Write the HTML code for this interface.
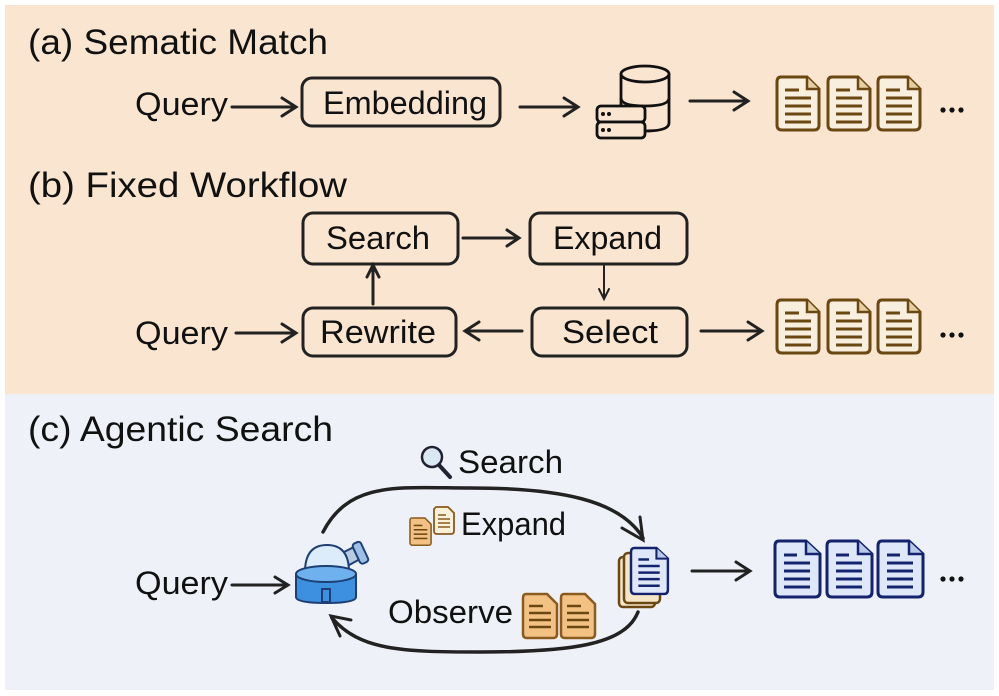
<!DOCTYPE html>
<html><head><meta charset="utf-8"><style>
html,body{margin:0;padding:0;background:#fff}
svg{display:block}
text{font-family:"Liberation Sans",sans-serif;fill:#111}
</style></head><body>
<svg width="999" height="696" viewBox="0 0 999 696" xmlns="http://www.w3.org/2000/svg">
<defs>
<g id="docB">
 <path d="M4 0 H30 L42 12 V48 Q42 53 37 53 H5 Q0 53 0 48 V5 Q0 0 4 0Z" fill="#f8efde" stroke="#6b4712" stroke-width="3"/>
 <path d="M30 0 V12 H42" fill="#e6cfa3" stroke="#6b4712" stroke-width="2.5"/>
 <g stroke="#6b4712" stroke-width="3"><line x1="8" y1="13" x2="22" y2="13"/><line x1="8" y1="21" x2="34" y2="21"/><line x1="8" y1="29" x2="34" y2="29"/><line x1="8" y1="37" x2="34" y2="37"/><line x1="8" y1="45" x2="34" y2="45"/></g>
</g>
<g id="docU">
 <path d="M4 0 H31 L45 13 V51 Q45 56 40 56 H5 Q0 56 0 51 V5 Q0 0 4 0Z" fill="#dfe8f8" stroke="#14236e" stroke-width="3"/>
 <path d="M31 0 V13 H45" fill="#b9c9ea" stroke="#14236e" stroke-width="2.5"/>
 <g stroke="#14236e" stroke-width="3"><line x1="9" y1="14" x2="22" y2="14"/><line x1="9" y1="22" x2="35" y2="22"/><line x1="9" y1="30" x2="35" y2="30"/><line x1="9" y1="38" x2="35" y2="38"/><line x1="9" y1="46" x2="35" y2="46"/></g>
</g>
<g id="docO">
 <path d="M3 0 H24 L34 10 V40 Q34 44 30 44 H4 Q0 44 0 40 V4 Q0 0 3 0Z" fill="#f3c283" stroke="#8a5a1e" stroke-width="2.5"/>
 <g stroke="#6b4712" stroke-width="2.5"><line x1="6" y1="12" x2="20" y2="12"/><line x1="6" y1="19" x2="28" y2="19"/><line x1="6" y1="26" x2="28" y2="26"/><line x1="6" y1="33" x2="28" y2="33"/></g>
</g>
</defs>
<rect x="5" y="5" width="989" height="389" fill="#f9e5d0"/>
<rect x="5" y="394" width="989" height="296" fill="#eef2f8"/>

<g font-size="35">
<text x="28" y="54" textLength="300" lengthAdjust="spacingAndGlyphs">(a) Sematic Match</text>
<text x="28" y="197" textLength="319" lengthAdjust="spacingAndGlyphs">(b) Fixed Workflow</text>
<text x="28" y="441" textLength="305" lengthAdjust="spacingAndGlyphs">(c) Agentic Search</text>
</g>

<g fill="none" stroke="#222" stroke-width="3" stroke-linecap="round">
<path d="M232 107 H294"/><path d="M282 98 L296 107 L282 116"/>
<rect x="302" y="78" width="198" height="48" rx="10"/>
<path d="M520 107 H576"/><path d="M564 98 L578 107 L564 116"/>
<path d="M690 101 H746"/><path d="M734 92 L748 101 L734 110"/>
<rect x="303" y="213" width="155" height="51" rx="10"/>
<rect x="530" y="213" width="157" height="51" rx="10"/>
<rect x="303" y="308" width="153" height="48" rx="10"/>
<rect x="532" y="308" width="155" height="48" rx="10"/>
<path d="M463 238 H518"/><path d="M507 230 L519 238 L507 246"/>
<path d="M604 266 V298" stroke-width="2"/><path d="M599 289 L604 299 L609 289" stroke-width="2"/>
<path d="M373 304 V266"/><path d="M367 277 L373 265 L379 277"/>
<path d="M522 331 H467"/><path d="M479 322 L465 331 L479 340"/>
<path d="M236 333 H294"/><path d="M282 324 L296 333 L282 342"/>
<path d="M701 331 H760"/><path d="M748 322 L762 331 L748 340"/>
<path d="M232 585 H286"/><path d="M275 577 L288 585 L275 593"/>
<path d="M692 571 H748"/><path d="M736 562 L750 571 L736 580"/>
<path d="M323 532 C350 480, 400 488, 470 488 C560 488, 620 500, 643 538" stroke-width="3.5"/>
<path d="M622 528 L643 540 L640 517"/>
<path d="M638 612 C625 645, 570 652, 480 652 C400 652, 360 650, 332 618" stroke-width="3.5"/>
<path d="M351 620 L331 616 L340 636"/>
</g>

<g font-size="32">
<text x="135" y="115" textLength="93" lengthAdjust="spacingAndGlyphs">Query</text>
<text x="323" y="114" textLength="164" lengthAdjust="spacingAndGlyphs">Embedding</text>
<text x="326" y="249" textLength="104" lengthAdjust="spacingAndGlyphs">Search</text>
<text x="553" y="249" textLength="109" lengthAdjust="spacingAndGlyphs">Expand</text>
<text x="135" y="344" textLength="93" lengthAdjust="spacingAndGlyphs">Query</text>
<text x="320" y="343" textLength="116" lengthAdjust="spacingAndGlyphs">Rewrite</text>
<text x="562" y="343" textLength="96" lengthAdjust="spacingAndGlyphs">Select</text>
<text x="135" y="594" textLength="93" lengthAdjust="spacingAndGlyphs">Query</text>
<text x="458" y="473" textLength="105" lengthAdjust="spacingAndGlyphs">Search</text>
<text x="461" y="535" textLength="105" lengthAdjust="spacingAndGlyphs">Expand</text>
<text x="388" y="623" textLength="125" lengthAdjust="spacingAndGlyphs">Observe</text>
</g>
<g fill="#111"><circle cx="943" cy="110" r="2.6"/><circle cx="952" cy="110" r="2.6"/><circle cx="961" cy="110" r="2.6"/>
<circle cx="943" cy="335" r="2.6"/><circle cx="952" cy="335" r="2.6"/><circle cx="961" cy="335" r="2.6"/>
<circle cx="943" cy="579" r="2.6"/><circle cx="952" cy="579" r="2.6"/><circle cx="961" cy="579" r="2.6"/></g>

<g fill="none" stroke="#111" stroke-width="2.8">
<ellipse cx="645" cy="74" rx="24" ry="8" fill="#f9e5d0"/>
<path d="M621 74 V123 Q621 131 645 131 Q669 131 669 123 V74"/>
<path d="M621 98 Q621 106 645 106 Q669 106 669 98"/>
<rect x="597" y="106" width="48" height="16" rx="4" fill="#f9e5d0"/>
<rect x="597" y="122" width="48" height="16" rx="4" fill="#f9e5d0"/>
</g>
<g fill="#111"><circle cx="603" cy="114" r="2"/><circle cx="609" cy="114" r="2"/><circle cx="603" cy="130" r="2"/><circle cx="609" cy="130" r="2"/></g>

<use href="#docB" x="777" y="77"/><use href="#docB" x="828" y="77"/><use href="#docB" x="878" y="77"/>
<use href="#docB" x="777" y="300"/><use href="#docB" x="828" y="300"/><use href="#docB" x="878" y="300"/>
<use href="#docU" x="775" y="541"/><use href="#docU" x="827" y="541"/><use href="#docU" x="878" y="541"/>

<rect x="619" y="557" width="36" height="50" rx="4" fill="#f5e6c8" stroke="#6b4712" stroke-width="2.5"/>
<rect x="624" y="553" width="36" height="50" rx="4" fill="#f5e6c8" stroke="#6b4712" stroke-width="2.5"/>
<g transform="translate(631,548) scale(0.82)"><use href="#docU"/></g>

<circle cx="432" cy="457" r="10" fill="#dbe8f3" stroke="#223" stroke-width="2.5"/>
<line x1="439" y1="465" x2="450" y2="477" stroke="#223" stroke-width="4" stroke-linecap="round"/>
<g transform="translate(410,518) scale(0.62)"><use href="#docO"/></g>
<g transform="translate(434,507)"><path d="M2 0 H14 L20 6 V24 Q20 27 17 27 H3 Q0 27 0 24 V2Z" fill="#fbf0d8" stroke="#8a5a1e" stroke-width="1.8"/><g stroke="#8a5a1e" stroke-width="1.5"><line x1="4" y1="8" x2="12" y2="8"/><line x1="4" y1="12" x2="16" y2="12"/><line x1="4" y1="16" x2="16" y2="16"/><line x1="4" y1="20" x2="16" y2="20"/></g></g>
<use href="#docO" x="523" y="594"/><use href="#docO" x="561" y="594"/>

<g stroke="#1d3f73" stroke-width="2">
<path d="M336 556 L356 546 L362 558 L340 570Z" fill="#b9cbe0"/>
<rect x="356" y="542" width="9" height="22" rx="3" transform="rotate(-25 360 553)" fill="#9fc0e6"/>
<path d="M305 572 Q305 545 327 545 Q349 545 349 572Z" fill="#dcecfb"/>
<path d="M296 574 V597 Q296 603 326 603 Q356 603 356 597 V574" fill="#3d8fe0"/>
<ellipse cx="326" cy="574" rx="30" ry="8" fill="#6fb0ef"/>
<rect x="322" y="589" width="8" height="13" fill="#3d8fe0"/>
</g>
</svg>
</body></html>
